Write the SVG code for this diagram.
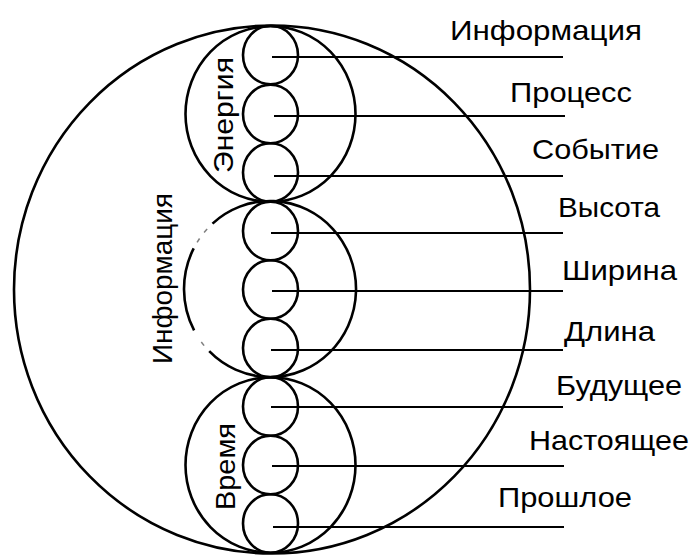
<svg xmlns="http://www.w3.org/2000/svg" width="691" height="556" viewBox="0 0 691 556">
<style>
.c{fill:none;stroke:#000;stroke-width:2.6}
.s{fill:none;stroke:#000;stroke-width:2.6}
.l{stroke:#000;stroke-width:2.2}
.t{font-family:"Liberation Sans",Arial,sans-serif;font-size:28px;fill:#000}
.f{stroke:#000;stroke-width:1.5;opacity:0.5}
</style>
<rect width="691" height="556" fill="#fff"/>
<g id="outer">
<ellipse class="c" cx="272" cy="289.5" rx="258" ry="264"/>
<text class="t" transform="translate(172,364) rotate(-90)" textLength="171" lengthAdjust="spacingAndGlyphs">Информация</text>
</g>
<g id="energy">
<ellipse class="c" cx="270.5" cy="114" rx="85" ry="87.75"/>
<text class="t" transform="translate(233,173) rotate(-90)" textLength="116" lengthAdjust="spacingAndGlyphs">Энергия</text>
</g>
<g id="space">
<path class="c" d="M212.5,223.6 A86,88 0 1 1 209.2,351.2"/>
<path class="c" d="M194.1,330.3 A86,88 0 0 1 193.7,248.4"/>
<line class="f" x1="204.1" y1="232.4" x2="207.1" y2="229"/>
<line class="f" x1="197.1" y1="242.4" x2="199.6" y2="238.5"/>
<line class="f" x1="204.1" y1="345.6" x2="201.3" y2="342"/>
</g>
<g id="time">
<ellipse class="c" cx="270.5" cy="465" rx="85" ry="87.75"/>
<text class="t" transform="translate(235,510) rotate(-90)" textLength="87" lengthAdjust="spacingAndGlyphs">Время</text>
</g>
<g id="small">
<ellipse class="s" cx="270.5" cy="55" rx="27.5" ry="29.25"/>
<ellipse class="s" cx="270.5" cy="114" rx="27.5" ry="29.25"/>
<ellipse class="s" cx="270.5" cy="172.5" rx="27.5" ry="29.25"/>
<ellipse class="s" cx="270.5" cy="231" rx="27.5" ry="29.25"/>
<ellipse class="s" cx="270.5" cy="289.5" rx="27.5" ry="29.25"/>
<ellipse class="s" cx="270.5" cy="348" rx="27.5" ry="29.25"/>
<ellipse class="s" cx="270.5" cy="406.5" rx="27.5" ry="29.25"/>
<ellipse class="s" cx="270.5" cy="465" rx="27.5" ry="29.25"/>
<ellipse class="s" cx="270.5" cy="523.5" rx="27.5" ry="29.25"/>
</g>
<g id="connectors">
<line class="l" x1="272" y1="57" x2="563" y2="57"/>
<line class="l" x1="274" y1="116" x2="565" y2="116"/>
<line class="l" x1="274" y1="176" x2="563" y2="176"/>
<line class="l" x1="271" y1="233" x2="563" y2="233"/>
<line class="l" x1="272" y1="291" x2="563" y2="291"/>
<line class="l" x1="271" y1="350" x2="563" y2="350"/>
<line class="l" x1="271" y1="407" x2="563" y2="407"/>
<line class="l" x1="272" y1="466" x2="564" y2="466"/>
<line class="l" x1="273" y1="527" x2="564" y2="527"/>
</g>
<g id="labels">
<text class="t" x="450" y="40" textLength="192" lengthAdjust="spacingAndGlyphs">Информация</text>
<text class="t" x="510" y="102" textLength="122" lengthAdjust="spacingAndGlyphs">Процесс</text>
<text class="t" x="532" y="159" textLength="127" lengthAdjust="spacingAndGlyphs">Событие</text>
<text class="t" x="558" y="217" textLength="102" lengthAdjust="spacingAndGlyphs">Высота</text>
<text class="t" x="562" y="280" textLength="115" lengthAdjust="spacingAndGlyphs">Ширина</text>
<text class="t" x="564" y="341" textLength="91" lengthAdjust="spacingAndGlyphs">Длина</text>
<text class="t" x="556" y="395" textLength="126" lengthAdjust="spacingAndGlyphs">Будущее</text>
<text class="t" x="529" y="450" textLength="160" lengthAdjust="spacingAndGlyphs">Настоящее</text>
<text class="t" x="498" y="507" textLength="134" lengthAdjust="spacingAndGlyphs">Прошлое</text>
</g>
</svg>
